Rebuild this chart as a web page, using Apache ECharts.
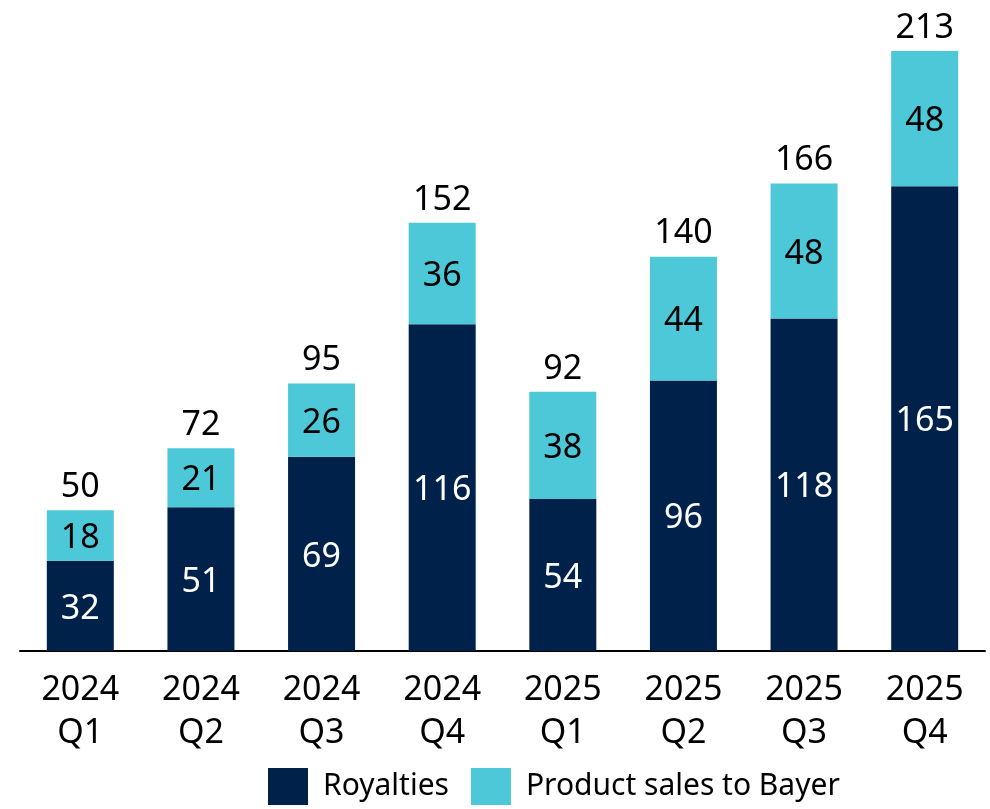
<!DOCTYPE html>
<html>
<head>
<meta charset="utf-8">
<script src="https://cdn.jsdelivr.net/npm/echarts@6/dist/echarts.min.js"></script>
<style>
  html, body { margin: 0; padding: 0; background: #fff; }
  #chart { width: 990px; height: 809px; }
</style>
</head>
<body>
<div id="chart"></div>
<script>
// quarters on the x axis
const quarters = ['2024\nQ1', '2024\nQ2', '2024\nQ3', '2024\nQ4', '2025\nQ1', '2025\nQ2', '2025\nQ3', '2025\nQ4']
const royalties = [32, 51, 69, 116, 54, 96, 118, 165]
const productSales = [18, 21, 26, 36, 38, 44, 48, 48]
const totals = [50, 72, 95, 152, 92, 140, 166, 213]

const font = 'Noto Sans'
const navy = '#00224A'
const cyan = '#4DC8D8'

const chart = echarts.init(document.getElementById('chart'))
const option = {
  animation: false,
  textStyle: { fontFamily: font },
  grid: {
    left: 20,
    right: 5,
    top: 51,
    bottom: 158
  },
  legend: {
    data: ['Royalties', 'Product sales to Bayer'],
    left: 268,
    top: 768,
    padding: 0,
    itemWidth: 40,
    itemHeight: 37,
    itemGap: 22,
    icon: 'rect',
    textStyle: { fontSize: 30, color: '#000', fontFamily: font, padding: [0, 0, 0, 10] }
  },
  xAxis: {
    type: 'category',
    data: quarters,
    axisLine: { lineStyle: { color: '#000', width: 2 } },
    axisTick: { show: false },
    axisLabel: {
      fontSize: 34,
      lineHeight: 43,
      color: '#000',
      margin: 18,
      fontFamily: font
    }
  },
  yAxis: {
    type: 'value',
    min: 0,
    max: 213,
    show: false,
    splitLine: { show: false }
  },
  series: [
    {
      name: 'Royalties',
      type: 'bar',
      stack: 'rev',
      barWidth: 67,
      data: royalties,
      itemStyle: { color: navy },
      label: { show: true, position: 'inside', offset: [0, 3], color: '#fff', fontSize: 34, fontFamily: font }
    },
    {
      name: 'Product sales to Bayer',
      type: 'bar',
      stack: 'rev',
      barWidth: 67,
      data: productSales,
      itemStyle: { color: cyan },
      label: { show: true, position: 'inside', offset: [0, 3], color: '#000', fontSize: 34, fontFamily: font }
    },
    {
      // invisible bar only used to put the total above each stack
      name: 'Total',
      type: 'bar',
      barWidth: 67,
      barGap: '-100%',
      data: totals,
      silent: true,
      z: 0,
      itemStyle: { color: 'rgba(0,0,0,0)' },
      label: { show: true, position: 'top', distance: 6, color: '#000', fontSize: 34, fontFamily: font }
    }
  ]
}
chart.setOption(option)
</script>
</body>
</html>
